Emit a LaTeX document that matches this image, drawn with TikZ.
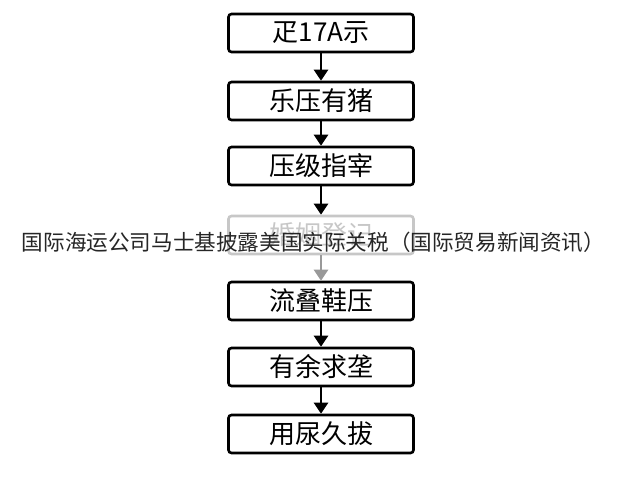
\documentclass[tikz,border=0pt]{standalone}
\usepackage{fontspec}
\setmainfont{Noto Sans CJK SC}
\usetikzlibrary{arrows.meta}

\begin{document}
\begin{tikzpicture}[x=1pt,y=-1pt,
	box/.style={draw, line width=2.6pt, rounded corners=3pt, minimum width=185pt, minimum height=38pt, inner sep=0pt, font=\fontsize{26}{26}\selectfont},
	arr/.style={-{Triangle[width=14pt,length=11pt]}, line width=2.6pt}]
	\useasboundingbox (0,0) rectangle (640,480);
	%\draw[red] (0,0) rectangle (640,480);
	\node[box] (s1) at (321,33) {疋17A示};
	\node[box] (s2) at (321,101) {乐压有猪};
	\node[box] (s3) at (321,166) {压级指宰};
	\node[box, draw=black!22, text=black!22] (s4) at (321,235) {婚姻登记};
	\node[box] (s5) at (321,301) {流叠鞋压};
	\node[box] (s6) at (321,367) {有余求垄};
	\node[box] (s7) at (321,434) {用尿久拔};
	\draw[arr] (s1) -- (s2);
	\draw[arr] (s2) -- (s3);
	\draw[arr] (s3) -- (s4);
	\draw[arr, draw=black!40, fill=black!40] (s4) -- (s5);
	\draw[arr] (s5) -- (s6);
	\draw[arr] (s6) -- (s7);
	\node[text=black!85, font=\fontsize{21.6}{21.6}\selectfont, inner sep=0pt] (cap) at (313.5,242) {国际海运公司马士基披露美国实际关税（国际贸易新闻资讯）};
\end{tikzpicture}
\end{document}
